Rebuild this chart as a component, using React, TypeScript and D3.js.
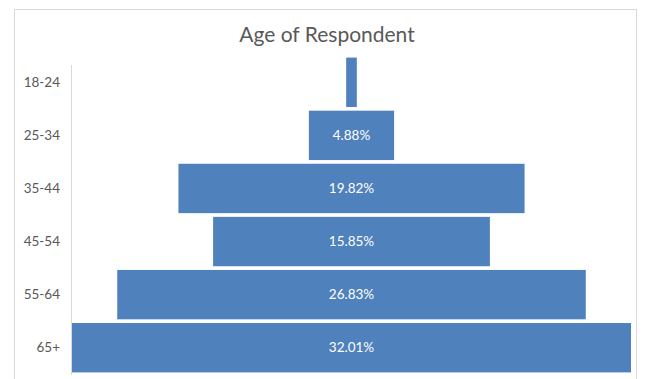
import React from "react";
import * as d3 from "d3";

const categories = ["18-24", "25-34", "35-44", "45-54", "55-64", "65+"];
const values = [0.61, 4.88, 19.82, 15.85, 26.83, 32.01];
const labels = ["", "4.88%", "19.82%", "15.85%", "26.83%", "32.01%"];

const W = 649;
const H = 379;

export default function App() {
  const center = 351.5;
  const half = d3.scaleLinear().domain([0, 32.01]).range([0, 279.5]);
  const y = d3.scaleBand<string>().domain(categories).range([56, 374]).paddingInner(0.07).paddingOuter(0.03);
  const font = "Lato, 'Open Sans', sans-serif";
  return (
    <svg width={W} height={H} style={{ position: "absolute", left: 0, top: 0, display: "block" }}>
      <rect x={0} y={0} width={W} height={H} fill="#fff" />
      <rect x={14.5} y={9.5} width={622} height={380} fill="#fff" stroke="#d9d9d9" />
      <text x={327} y={42} textAnchor="middle" fontFamily={font} fontSize={21} fill="#595959">
        Age of Respondent
      </text>
      <line x1={71.5} x2={71.5} y1={65} y2={375} stroke="#d9d9d9" />
      {categories.map((c, i) => {
        const w = half(values[i]);
        const yy = y(c)!;
        const bh = y.bandwidth();
        return (
          <g key={c}>
            <rect x={center - w} y={yy} width={2 * w} height={bh} fill="#4f81bd" />
            <text x={60} y={yy + bh / 2} dy="0.35em" textAnchor="end" fontFamily={font} fontSize={13.5} fill="#595959">
              {c}
            </text>
            {labels[i] && (
              <text x={center} y={yy + bh / 2} dy="0.35em" textAnchor="middle" fontFamily={font} fontSize={13.5} fill="#ffffff">
                {labels[i]}
              </text>
            )}
          </g>
        );
      })}
    </svg>
  );
}
